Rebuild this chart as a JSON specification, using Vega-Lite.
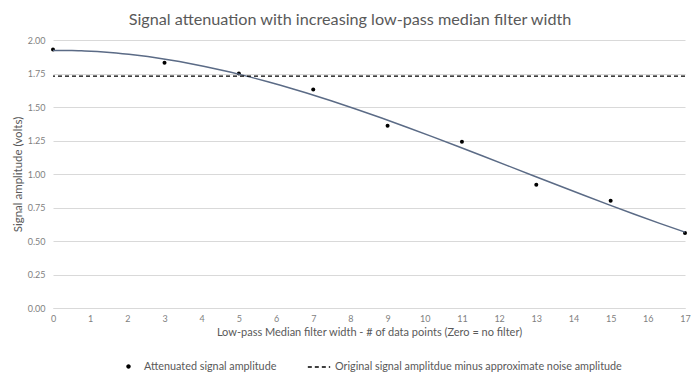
{
  "$schema": "https://vega.github.io/schema/vega-lite/v6.json",
  "autosize": "none",
  "width": 632,
  "height": 268,
  "padding": {"left": 53, "top": 40, "right": 15, "bottom": 71},
  "background": "white",
  "title": {
    "text": "Signal attenuation with increasing low-pass median filter width",
    "font": "Lato",
    "fontSize": 16.2,
    "fontWeight": "normal",
    "color": "#595959",
    "offset": 8,
    "dx": -19,
    "anchor": "middle"
  },
  "data": {
    "values": [
      {"width": 0, "amp": 1.93},
      {"width": 3, "amp": 1.83},
      {"width": 5, "amp": 1.75},
      {"width": 7, "amp": 1.63},
      {"width": 9, "amp": 1.36},
      {"width": 11, "amp": 1.24},
      {"width": 13, "amp": 0.92},
      {"width": 15, "amp": 0.80},
      {"width": 17, "amp": 0.56}
    ]
  },
  "config": {
    "view": {"stroke": null},
    "font": "Lato",
    "axis": {
      "labelFont": "Lato",
      "labelFontSize": 9,
      "labelColor": "#7f7f7f",
      "titleFont": "Lato",
      "titleFontSize": 11,
      "titleFontWeight": "normal",
      "titleColor": "#595959",
      "ticks": false
    },
    "legend": {
      "labelFont": "Lato",
      "labelFontSize": 10.8,
      "labelColor": "#595959",
      "labelLimit": 0,
      "orient": "bottom",
      "direction": "horizontal",
      "title": null,
      "offset": 18,
      "layout": {"bottom": {"anchor": "middle", "direction": "horizontal", "margin": 30}}
    }
  },
  "layer": [
    {
      "mark": {"type": "point", "filled": true, "size": 16, "opacity": 1},
      "encoding": {
        "x": {
          "field": "width", "type": "quantitative",
          "scale": {"domain": [0, 17], "nice": false},
          "axis": {
            "values": [0,1,2,3,4,5,6,7,8,9,10,11,12,13,14,15,16,17],
            "grid": false,
            "domainColor": "#d9d9d9",
            "labelPadding": 6,
            "labelFlush": false,
            "labelOverlap": false,
            "labelBound": false,
            "title": "Low-pass Median filter width - # of data points (Zero = no filter)",
            "titlePadding": 3
          }
        },
        "y": {
          "field": "amp", "type": "quantitative",
          "scale": {"domain": [0, 2], "nice": false},
          "axis": {
            "values": [0, 0.25, 0.5, 0.75, 1, 1.25, 1.5, 1.75, 2],
            "format": ".2f",
            "domain": false,
            "gridColor": "#d9d9d9",
            "labelPadding": 8,
            "title": "Signal amplitude (volts)",
            "titleFontSize": 11.5,
            "titlePadding": 4
          }
        },
        "color": {
          "datum": "Attenuated signal amplitude",
          "scale": {"range": ["black"]},
          "legend": {
            "symbolSize": 500,
            "symbolType": "M-0.2,0A0.2,0.2,0,1,1,0.2,0A0.2,0.2,0,1,1,-0.2,0Z",
            "symbolFillColor": "black",
            "symbolStrokeWidth": 0,
            "labelOffset": 4
          }
        }
      }
    },
    {
      "transform": [
        {"regression": "amp", "on": "width", "method": "poly", "order": 3, "extent": [0, 17]}
      ],
      "mark": {"type": "line", "color": "#5b6b86", "strokeWidth": 1.5},
      "encoding": {
        "x": {
          "field": "width", "type": "quantitative",
          "axis": {
            "values": [0,1,2,3,4,5,6,7,8,9,10,11,12,13,14,15,16,17],
            "grid": false,
            "domainColor": "#d9d9d9",
            "labelPadding": 6,
            "labelFlush": false,
            "labelOverlap": false,
            "labelBound": false,
            "title": "Low-pass Median filter width - # of data points (Zero = no filter)",
            "titlePadding": 3
          }
        },
        "y": {
          "field": "amp", "type": "quantitative",
          "axis": {
            "values": [0, 0.25, 0.5, 0.75, 1, 1.25, 1.5, 1.75, 2],
            "format": ".2f",
            "domain": false,
            "gridColor": "#d9d9d9",
            "labelPadding": 8,
            "title": "Signal amplitude (volts)",
            "titleFontSize": 11.5,
            "titlePadding": 4
          }
        }
      }
    },
    {
      "data": {"values": [{"level": 1.73, "series": "Original signal amplitdue minus approximate noise amplitude"}]},
      "mark": {"type": "rule", "color": "black", "strokeWidth": 1.3},
      "encoding": {
        "y": {
          "field": "level", "type": "quantitative",
          "axis": {
            "values": [0, 0.25, 0.5, 0.75, 1, 1.25, 1.5, 1.75, 2],
            "format": ".2f",
            "domain": false,
            "gridColor": "#d9d9d9",
            "labelPadding": 8,
            "title": "Signal amplitude (volts)",
            "titleFontSize": 11.5,
            "titlePadding": 4
          }
        },
        "strokeDash": {
          "field": "series", "type": "nominal",
          "scale": {"range": [[4, 3]]},
          "legend": {"symbolStrokeColor": "black", "symbolStrokeWidth": 1.3, "symbolSize": 500, "labelOffset": 4}
        }
      }
    }
  ]
}
